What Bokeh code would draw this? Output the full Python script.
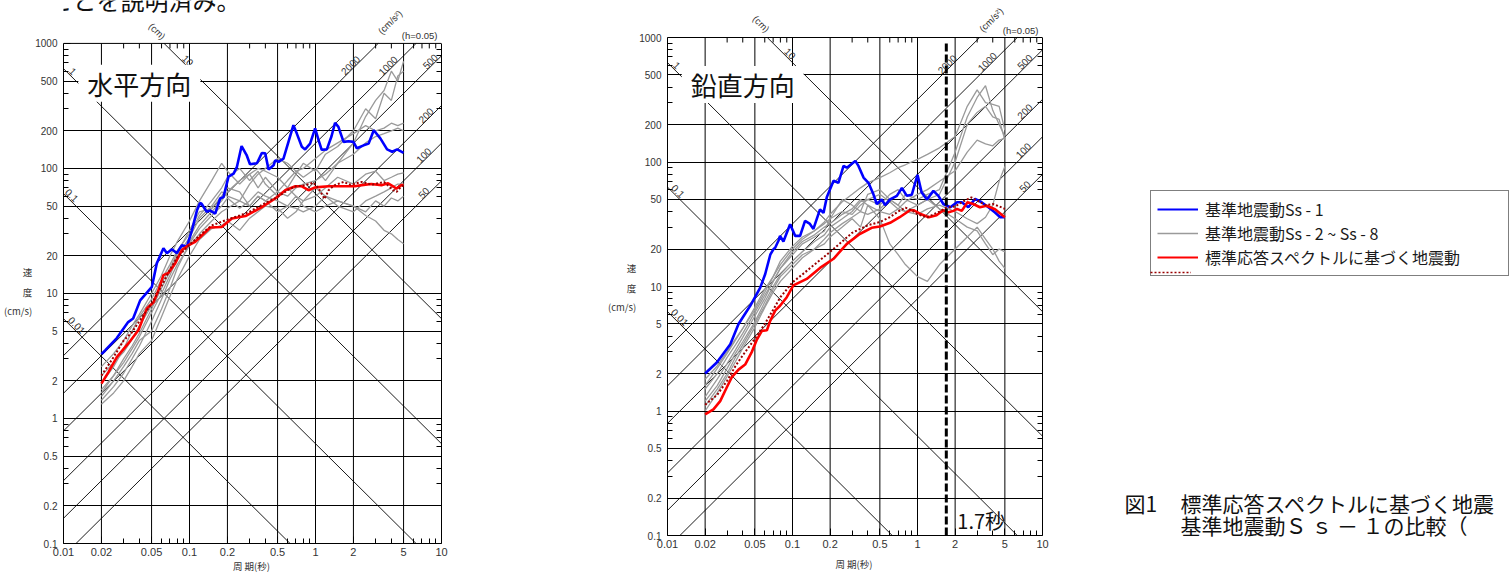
import math
from bokeh.plotting import figure
from bokeh.models import FixedTicker, LogAxis, Label, Legend, LegendItem, Range1d
from bokeh.layouts import row, column
from bokeh.embed import file_html
from bokeh.resources import INLINE

# ---------------- axis ticks ----------------
X_TICKS = [0.01, 0.02, 0.05, 0.1, 0.2, 0.5, 1, 2, 5, 10]
X_TICK_LABELS = ["0.01", "0.02", "0.05", "0.1", "0.2", "0.5", "1", "2", "5", "10"]
X_MINOR = [0.03, 0.04, 0.06, 0.07, 0.08, 0.09, 0.3, 0.4, 0.6, 0.7, 0.8, 0.9, 3, 4, 6, 7, 8, 9]
Y_TICKS = [0.1, 0.2, 0.5, 1, 2, 5, 10, 20, 50, 100, 200, 500, 1000]
Y_TICK_LABELS = ["0.1", "0.2", "0.5", "1", "2", "5", "10", "20", "50", "100", "200", "500", "1000"]
Y_MINOR = [0.3, 0.4, 0.6, 0.7, 0.8, 0.9, 3, 4, 6, 7, 8, 9, 30, 40, 60, 70, 80, 90, 300, 400, 600, 700, 800, 900]

# tripartite reference lines
DISP_CM = [0.01, 0.1, 1, 10]
DISP_LABELS = ["0.01", "0.1", "1", "10"]
ACC_CMS2 = [50, 100, 200, 500, 1000, 2000]
ACC_LABELS = ["50", "100", "200", "500", "1000", "2000"]
CUTOFF_PERIOD = 1.7

# ---------------- horizontal (水平方向) ----------------
H_SS1_T = [0.02, 0.0214, 0.0265, 0.0326, 0.0357, 0.0406, 0.0503, 0.055, 0.0621, 0.0662,
           0.0725, 0.0795, 0.087, 0.0953, 0.1045, 0.1145, 0.1213, 0.125, 0.137, 0.146,
           0.16, 0.175, 0.186, 0.204, 0.224, 0.238, 0.259, 0.284, 0.302, 0.343,
           0.375, 0.399, 0.424, 0.465, 0.479, 0.509, 0.557, 0.61, 0.668, 0.711,
           0.779, 0.827, 0.906, 0.993, 1.056, 1.12, 1.23, 1.34, 1.43, 1.52,
           1.67, 1.83, 2.0, 2.13, 2.41, 2.64, 2.9, 3.27, 3.7, 4.06, 4.45, 5.0]
H_SS1_V = [3.27, 3.5, 4.4, 5.9, 6.3, 8.8, 11.3, 17.4, 23, 21,
           22.6, 21, 24.3, 23.6, 32, 46, 53, 52, 45, 46,
           43.6, 57.5, 59, 86, 91, 103, 151, 128, 108, 110,
           133, 132, 98, 106, 116, 113, 120, 163, 222, 190,
           149, 142, 158, 209, 169, 141, 142, 181, 232, 215,
           163, 165, 163, 145, 153, 158, 202, 174, 142, 136, 142, 133]

H_STD_T = [0.02, 0.0228, 0.0265, 0.0328, 0.0394, 0.0459, 0.0518, 0.0567, 0.0621, 0.068,
           0.077, 0.087, 0.098, 0.111, 0.146, 0.18, 0.217, 0.278, 0.375, 0.479,
           0.576, 0.692, 0.779, 0.88, 0.993, 1.27, 1.62, 2.05, 2.33, 2.77,
           3.34, 3.77, 4.13, 4.38, 4.8, 5.0]
H_STD_V = [1.9, 2.36, 3.1, 4.0, 5.1, 7.6, 8.5, 10.6, 14, 14.6,
           17.4, 22.2, 24.3, 25.9, 33.7, 34, 39.8, 41.6, 49, 57.5,
           67, 72, 72, 67, 70.6, 72, 72, 72, 73.5, 75,
           73.5, 76, 72, 69, 73.5, 73.5]

H_STD2_T = [0.02, 0.025, 0.03, 0.035, 0.04, 0.05, 0.06, 0.07, 0.08, 0.1,
            0.12, 0.15, 0.2, 0.25, 0.3, 0.4, 0.5, 0.6, 0.7, 0.8,
            0.9, 0.96, 1.05, 1.18, 1.27, 1.42, 1.67, 1.9, 2.33, 2.8,
            3.5, 4.13, 4.4, 4.8, 5.0]
H_STD2_V = [2.2, 3.1, 4.2, 4.9, 6.0, 8.3, 11.5, 15.5, 19.5, 24.5,
            29, 35, 39, 42, 45, 53, 59, 67, 72, 73,
            75, 77, 70, 57, 67, 73.5, 78, 74, 78, 74,
            78, 67, 65, 72, 73]

GRAY_T = [0.02, 0.025, 0.03, 0.035, 0.04, 0.05, 0.06, 0.07, 0.08, 0.1,
          0.12, 0.15, 0.18, 0.2, 0.25, 0.3, 0.35, 0.4, 0.5, 0.6,
          0.7, 0.8, 1.0, 1.2, 1.5, 2.0, 2.5, 3.0, 3.5, 4.0, 4.5, 5.0]
H_SS2 = [2.6, 3.3, 4.2, 5.5, 6.8, 10, 14, 20, 26, 38, 55, 80, 110, 95, 75, 90, 70, 85, 65, 80,
         95, 85, 100, 80, 110, 160, 260, 350, 420, 600, 500, 720]
H_SS3 = [1.9, 2.6, 3.6, 5.0, 6.5, 9.0, 13, 17, 22, 30, 42, 55, 70, 85, 100, 80, 95, 75, 60, 70,
         90, 110, 95, 130, 150, 200, 300, 250, 400, 350, 550, 600]
H_SS4 = [1.6, 2.2, 3.0, 3.8, 4.8, 7.5, 11, 15, 20, 28, 40, 50, 65, 60, 55, 75, 90, 100, 120, 110,
         95, 100, 120, 140, 160, 190, 220, 200, 210, 230, 220, 230]
H_SS5 = [1.4, 1.8, 2.3, 3.0, 3.8, 6.0, 9.0, 13, 17, 24, 30, 38, 45, 48, 55, 50, 60, 55, 65, 60,
         70, 75, 80, 90, 110, 130, 160, 180, 190, 200, 210, 200]
H_SS6 = [1.3, 1.6, 2.0, 2.6, 3.3, 4.2, 6.5, 9.5, 13, 20, 27, 33, 35, 38, 32, 40, 45, 50, 48, 40,
         45, 55, 60, 70, 85, 75, 90, 95, 80, 85, 90, 92]
H_SS7 = [2.2, 2.8, 3.4, 4.3, 5.5, 8.0, 12, 16, 21, 32, 45, 48, 60, 70, 65, 50, 60, 55, 45, 50,
         60, 55, 70, 60, 50, 45, 55, 60, 65, 70, 75, 75]
H_SS8 = [1.7, 2.2, 2.8, 3.6, 4.5, 7.0, 10, 14, 19, 26, 35, 45, 55, 65, 80, 90, 100, 95, 85, 70,
         60, 50, 45, 50, 55, 50, 45, 55, 50, 58, 55, 60]
H_SS9 = [1.5, 2.0, 2.6, 3.3, 4.2, 5.0, 7.5, 11, 16, 25, 33, 42, 50, 58, 48, 55, 65, 60, 55, 50,
         48, 45, 50, 60, 55, 50, 42, 38, 32, 30, 27, 25]

# ---------------- vertical (鉛直方向) ----------------
V_SS1_T = [0.02, 0.0248, 0.0318, 0.037, 0.0459, 0.0552, 0.0605, 0.0664, 0.0705, 0.0727,
           0.0772, 0.0795, 0.0846, 0.0957, 0.105, 0.115, 0.126, 0.137, 0.147, 0.166,
           0.177, 0.188, 0.213, 0.233, 0.256, 0.272, 0.318, 0.337, 0.37, 0.405,
           0.444, 0.472, 0.518, 0.55, 0.604, 0.684, 0.75, 0.822, 0.901, 1.0,
           1.08, 1.19, 1.34, 1.47, 1.61, 1.83, 2.07, 2.26, 2.55, 2.89,
           3.26, 3.69, 4.17, 4.59, 5.0]
V_SS1_V = [2.0, 2.45, 3.44, 5.0, 7.0, 9.8, 12.6, 18, 20, 20.5,
           23.3, 25.5, 23, 31.6, 25.5, 25.5, 33.7, 32, 29, 41.7,
           39, 52, 70.6, 68, 93, 90, 102, 93, 75, 68,
           55, 46, 50, 45, 50, 53.5, 62, 53.5, 54.6, 79,
           56.8, 50, 58.6, 53.5, 46, 43.3, 47.5, 47.5, 43.3, 50.5,
           47.5, 43.3, 39.3, 36, 36]

V_STD_T = [0.02, 0.0233, 0.0264, 0.0299, 0.0327, 0.037, 0.0418, 0.0474, 0.0519, 0.0569,
           0.0624, 0.0663, 0.0727, 0.0795, 0.09, 0.1016, 0.13, 0.166, 0.213, 0.272,
           0.345, 0.43, 0.5, 0.604, 0.72, 0.87, 0.93, 1.07, 1.23, 1.42,
           1.61, 1.77, 1.94, 2.07, 2.26, 2.51, 2.79, 3.16, 3.57, 4.17, 5.0]
V_STD_V = [0.94, 1.03, 1.2, 1.56, 1.87, 2.15, 2.36, 3.0, 3.75, 4.4,
           4.45, 5.3, 6.4, 7.0, 8.2, 10.2, 11.5, 14.1, 16.7, 22,
           26.4, 29.6, 30.3, 32.5, 36, 41, 41, 38, 36, 37.4,
           41, 39.4, 40.5, 42, 40.5, 47.5, 46, 43.3, 44.5, 41.7, 36]

V_STD2_T = [0.02, 0.025, 0.03, 0.035, 0.04, 0.05, 0.06, 0.07, 0.08, 0.1,
            0.12, 0.15, 0.2, 0.25, 0.3, 0.4, 0.5, 0.6, 0.7, 0.8,
            0.9, 1.0, 1.2, 1.5, 1.7, 2.0, 2.3, 2.7, 3.0, 3.5, 4.0, 4.5, 5.0]
V_STD2_V = [1.12, 1.35, 1.75, 2.3, 2.8, 3.8, 5.0, 6.5, 8.2, 10.8,
            12.5, 15, 19, 23, 27, 31, 33, 36, 40, 43,
            41, 38, 36, 40, 43, 44, 48, 52, 49, 45, 46, 44, 42]

V_SS2 = [1.6, 2.2, 2.9, 3.7, 4.6, 6.8, 9.5, 12, 15, 20, 24, 28, 33, 38, 48, 55, 62, 68, 75, 82,
         90, 95, 105, 115, 130, 160, 280, 380, 300, 290, 280, 180]
V_SS3 = [1.3, 1.8, 2.4, 3.1, 3.9, 5.8, 8.0, 11, 14, 18, 22, 25, 28, 35, 50, 45, 40, 55, 60, 50,
         45, 55, 50, 55, 60, 120, 230, 330, 410, 260, 200, 160]
V_SS4 = [1.2, 1.6, 2.2, 2.9, 3.6, 5.2, 7.5, 10, 12.5, 16, 19, 23, 26, 30, 35, 40, 48, 50, 45, 55,
         60, 50, 45, 50, 55, 100, 200, 250, 280, 230, 220, 150]
V_SS5 = [1.5, 2.0, 2.7, 3.4, 4.2, 6.2, 8.5, 11, 14, 19, 23, 26, 30, 32, 38, 42, 50, 45, 40, 38,
         42, 48, 55, 60, 70, 85, 120, 150, 140, 135, 150, 155]
V_SS6 = [1.1, 1.5, 2.0, 2.7, 3.4, 5.0, 7.0, 9.5, 12, 15, 18, 20, 22, 25, 30, 35, 30, 45, 35, 22,
         18, 15, 12, 11, 15, 20, 25, 30, 24, 20, 16, 14]
V_SS7 = [1.8, 2.3, 3.0, 3.8, 4.6, 6.5, 9.0, 12, 16, 21, 25, 28, 32, 35, 40, 38, 45, 50, 55, 48,
         42, 40, 45, 50, 42, 35, 30, 28, 22, 18, 20, 19]
V_SS8 = [1.0, 1.4, 1.9, 2.5, 3.2, 4.7, 6.8, 9.0, 11, 14, 17, 20, 24, 27, 32, 36, 40, 38, 42, 50,
         45, 40, 38, 42, 45, 40, 35, 32, 36, 45, 70, 92]

LEGEND_LABELS = ["基準地震動Ss - 1", "基準地震動Ss - 2 ~ Ss - 8", "標準応答スペクトルに基づく地震動"]
CAPTION_NO = "図1"
CAPTION_LINE1 = "標準応答スペクトルに基づく地震"
CAPTION_LINE2 = "基準地震動Ｓ  ｓ  －  １の比較（"
PAGE_FRAGMENT = "ないことを説明済み。"

# ---------------- styling ----------------
TWO_PI = 2 * math.pi
TICK_FONT = "Liberation Sans"
JP_FONT = "Noto Sans CJK JP"
TXT = "#333333"
H = 575
X0, X1 = X_TICKS[0], X_TICKS[-1]
Y0, Y1 = Y_TICKS[0], Y_TICKS[-1]


def base_axis(ax):
    ax.axis_line_color = "black"
    ax.axis_line_width = 1
    ax.major_tick_in = 7
    ax.major_tick_out = 0
    ax.minor_tick_in = 5
    ax.minor_tick_out = 0
    ax.major_tick_line_color = "black"
    ax.minor_tick_line_color = "black"
    ax.major_label_text_font = TICK_FONT
    ax.major_label_text_color = TXT


def build_chart(width, bl, br, bb, top_pad, xlab_standoff):
    frame_h = H - bb
    extra = 4.0 * top_pad / (frame_h - top_pad)          # decades above 1000 kept for top labels
    px_dec = (frame_h - top_pad) / 4.0
    p = figure(width=width, height=H, x_axis_type="log", y_axis_type="log",
               x_range=Range1d(X0, X1), y_range=Range1d(Y0, Y1 * 10 ** extra),
               output_backend="svg", toolbar_location=None, title_location=None,
               min_border_left=bl, min_border_right=br, min_border_top=0, min_border_bottom=bb)
    p.background_fill_color = "white"
    p.border_fill_color = "white"
    p.outline_line_color = None

    xa = p.xaxis[0]
    base_axis(xa)
    xa.ticker = FixedTicker(ticks=X_TICKS, minor_ticks=X_MINOR)
    xa.major_label_overrides = dict(zip(X_TICKS, X_TICK_LABELS))
    xa.major_label_text_font_size = "11px"
    xa.major_label_standoff = 4
    xa.axis_label = "周  期(秒)"
    xa.axis_label_text_font = JP_FONT
    xa.axis_label_text_font_size = "9.5px"
    xa.axis_label_text_font_style = "normal"
    xa.axis_label_text_color = TXT
    xa.axis_label_standoff = xlab_standoff

    ya = p.yaxis[0]
    base_axis(ya)
    ya.bounds = (Y0, Y1)
    ya.ticker = FixedTicker(ticks=Y_TICKS, minor_ticks=Y_MINOR)
    ya.major_label_overrides = dict(zip(Y_TICKS, Y_TICK_LABELS))
    ya.major_label_text_font_size = "10px"
    ya.major_label_standoff = 6
    ya.axis_label = " \n \n速\n度\n(cm/s)"
    ya.axis_label_orientation = "horizontal"
    ya.axis_label_text_font = JP_FONT
    ya.axis_label_text_font_size = "9.5px"
    ya.axis_label_text_font_style = "normal"
    ya.axis_label_text_color = TXT
    ya.axis_label_text_line_height = 1.4
    ya.axis_label_text_align = "center"
    ya.axis_label_standoff = 0

    ra = LogAxis(ticker=FixedTicker(ticks=[], minor_ticks=Y_MINOR), bounds=(Y0, Y1))
    base_axis(ra)
    p.add_layout(ra, "right")

    # top edge (frame is extended upward to hold the unit labels)
    p.line([X0, X1], [Y1, Y1], line_color="black", line_width=1)
    tick_len = 10 ** (-5.0 / px_dec)
    p.segment(x0=X_MINOR, y0=[Y1] * len(X_MINOR), x1=X_MINOR, y1=[Y1 * tick_len] * len(X_MINOR),
              line_color="black", line_width=1)

    # grid
    p.xgrid.visible = False
    p.ygrid.ticker = FixedTicker(ticks=Y_TICKS[1:-1])
    p.ygrid.grid_line_color = "black"
    p.ygrid.grid_line_alpha = 1
    p.ygrid.grid_line_width = 1
    gx = X_TICKS[1:-1]
    p.segment(x0=gx, y0=[Y0] * len(gx), x1=gx, y1=[Y1] * len(gx), line_color="black", line_width=1)

    # tripartite lines, kept below the 1000 line
    for sd in DISP_CM:
        xs = [max(X0, TWO_PI * sd / Y1), X1]
        p.line(xs, [TWO_PI * sd / t for t in xs], line_color="black", line_width=0.9)
    for sa in ACC_CMS2:
        xs = [X0, min(X1, TWO_PI * Y1 / sa)]
        p.line(xs, [sa * t / TWO_PI for t in xs], line_color="black", line_width=0.9)
    return p, Y1 * 10 ** extra


def draw_curves(p, grays, ss1_t, ss1_v, std_t, std_v, std2_t, std2_v):
    for g in grays:
        p.line(GRAY_T, g, line_color="#9a9a9a", line_width=1.3)
    p.line(ss1_t, ss1_v, line_color="#0000ff", line_width=2.6)
    p.line(std_t, std_v, line_color="#ff0000", line_width=2.6)
    p.line(std2_t, std2_v, line_color="#990000", line_width=2, line_dash="2 2")


def lbl(p, **kw):
    base = dict(text_font=TICK_FONT, text_font_size="10px", text_color=TXT,
                text_align="center", text_baseline="middle")
    base.update(kw)
    p.add_layout(Label(**base))


def add_decorations(p, disp_t, acc_t, cm_pos, cms2_pos, h_dy, title, title_pos):
    for sd, txt, t in zip(DISP_CM, DISP_LABELS, disp_t):
        lbl(p, x=t, y=TWO_PI * sd / t, text=txt, angle=-math.pi / 4, y_offset=7)
    for sa, txt, t in zip(ACC_CMS2, ACC_LABELS, acc_t):
        lbl(p, x=t, y=sa * t / TWO_PI, text=txt, angle=math.pi / 4, y_offset=6)
    lbl(p, x=cm_pos[0], y=cm_pos[1], text="(cm)", angle=-math.pi / 4, text_font_size="9.5px")
    lbl(p, x=cms2_pos[0], y=cms2_pos[1], text="(cm/s²)", angle=math.pi / 4, text_font_size="9.5px")
    lbl(p, x=X1, y=Y1, x_offset=-4, y_offset=h_dy, text="(h=0.05)",
        text_align="right", text_font_size="9.5px")
    lbl(p, x=title_pos[0], y=title_pos[1], text=title, text_font=JP_FONT, text_font_size="26px",
        text_color="#111111", background_fill_color="white",
        padding=dict(left=9, right=9, top=0, bottom=0))


# ---------------- left chart ----------------
pL, topL = build_chart(600, 63, 159, 31, 43, 0)
draw_curves(pL, [H_SS2, H_SS3, H_SS4, H_SS5, H_SS6, H_SS7, H_SS8, H_SS9],
            H_SS1_T, H_SS1_V, H_STD_T, H_STD_V, H_STD2_T, H_STD2_V)
add_decorations(pL, [0.0128, 0.0117, 0.0119, 0.0975], [7.2, 7.2, 7.5, 8.1, 3.75, 1.89],
                (0.0555, 1254), (3.9, 1480), 8, "水平方向", (0.04, 480))
# fragment of the page text above the figure (cut by the page edge, as in the source)
lbl(pL, x=X0, y=topL, x_offset=-63, y_offset=1, text=PAGE_FRAGMENT, text_font=JP_FONT,
    text_font_size="24px", text_color="#111111", text_align="left")

# ---------------- right chart ----------------
pR, _ = build_chart(500, 67, 58, 40, 37, 6)
draw_curves(pR, [V_SS2, V_SS3, V_SS4, V_SS5, V_SS6, V_SS7, V_SS8],
            V_SS1_T, V_SS1_V, V_STD_T, V_STD_V, V_STD2_T, V_STD2_V)
pR.line([CUTOFF_PERIOD, CUTOFF_PERIOD], [Y0, 900], line_color="black",
        line_width=3, line_dash="8 3")
add_decorations(pR, [0.0126, 0.0122, 0.0119, 0.0959], [7.2, 7.0, 7.2, 7.2, 3.6, 1.72],
                (0.0563, 1288), (3.88, 1387), 7, "鉛直方向", (0.04, 420))
lbl(pR, x=CUTOFF_PERIOD, y=Y0, x_offset=11, y_offset=1, text="1.7秒",
    text_font=JP_FONT, text_font_size="20px", text_color="#111111",
    text_align="left", text_baseline="bottom")

# ---------------- legend + caption panel ----------------
WC = 412
pC = figure(width=WC, height=H, x_range=Range1d(0, WC), y_range=Range1d(H, 0),
            output_backend="svg", toolbar_location=None, title_location=None,
            x_axis_location=None, y_axis_location=None, min_border=0)
pC.outline_line_color = None
pC.background_fill_color = "white"
pC.border_fill_color = "white"
pC.xgrid.visible = False
pC.ygrid.visible = False
OFF = [-50, -40]          # keys live outside the visible range; only their legend glyphs show
kb = pC.line(OFF, OFF, line_color="#0000ff", line_width=2.2)
kg = pC.line(OFF, OFF, line_color="#9a9a9a", line_width=1.3)
kr = pC.line(OFF, OFF, line_color="#ff0000", line_width=2.2)
kd = pC.line(OFF, OFF, line_color="#990000", line_width=1.6, line_dash="2 2")
legend = Legend(items=[LegendItem(label=LEGEND_LABELS[0], renderers=[kb]),
                       LegendItem(label=LEGEND_LABELS[1], renderers=[kg]),
                       LegendItem(label=LEGEND_LABELS[2], renderers=[kr])],
                location=(50, 299), orientation="vertical",
                border_line_color="black", border_line_width=1,
                background_fill_color="white", background_fill_alpha=1,
                padding=6, spacing=0, margin=0, glyph_width=41, glyph_height=20,
                label_standoff=7, label_width=297, label_height=20,
                label_text_font=JP_FONT, label_text_font_size="16px", label_text_color="#1a1a1a")
pC.add_layout(legend)
# dotted key drawn just under the red one, as in the source legend
legend2 = Legend(items=[LegendItem(label=" ", renderers=[kd])],
                 location=(50, 298), orientation="vertical",
                 border_line_color=None, background_fill_alpha=0,
                 padding=6, spacing=0, margin=0, glyph_width=41, glyph_height=10,
                 label_standoff=7, label_width=10, label_height=10,
                 label_text_font=JP_FONT, label_text_font_size="8px")
pC.add_layout(legend2)
for txt, x, y in [(CAPTION_NO, 24, 502), (CAPTION_LINE1, 80, 502), (CAPTION_LINE2, 80, 524)]:
    pC.add_layout(Label(x=x, y=y, text=txt, text_font=JP_FONT, text_font_size="21px",
                        text_color="#111111", text_align="left", text_baseline="middle"))

layout = row(column(pL), column(pR), column(pC))
open("out.html", "w").write(file_html(layout, INLINE, title="response spectra"))
